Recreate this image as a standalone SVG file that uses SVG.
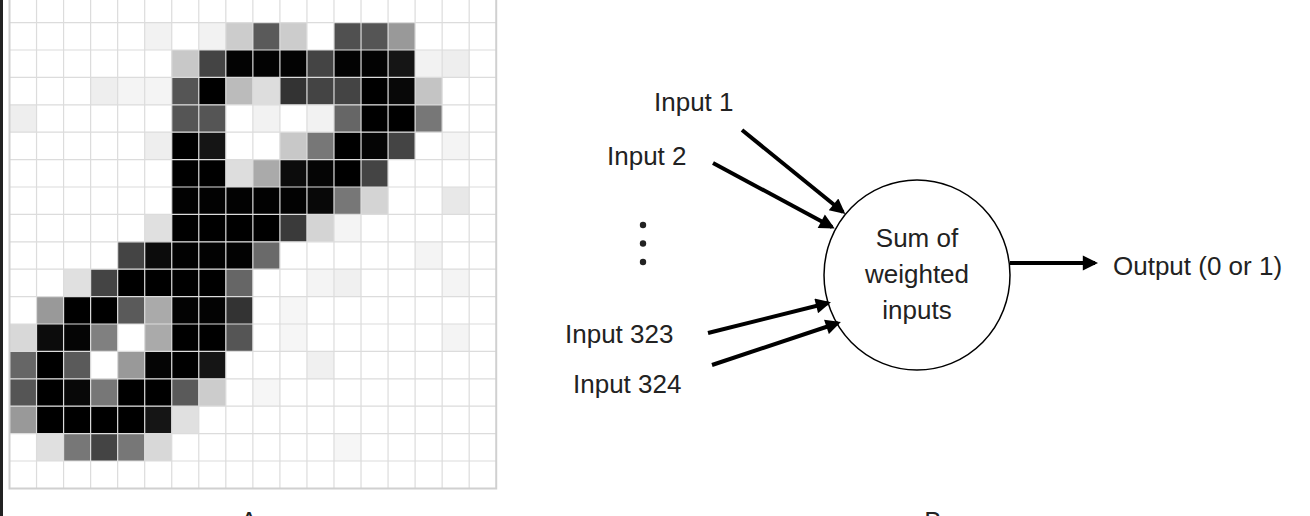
<svg xmlns="http://www.w3.org/2000/svg" width="1310" height="516" viewBox="0 0 1310 516">
<style>
.t{font-family:"Liberation Sans","DejaVu Sans",sans-serif;font-size:26px;fill:#222}
.c{text-anchor:middle}
.g{stroke:#dcdcdc;stroke-width:1.2;vector-effect:non-scaling-stroke;fill:none}
.a{stroke:#000;stroke-width:4;fill:none;marker-end:url(#ah)}
</style>
<defs>
<marker id="ah" viewBox="0 0 10 10" refX="8" refY="5" markerWidth="4.6" markerHeight="3.8" orient="auto" markerUnits="strokeWidth"><path d="M0,0 L10,5 L0,10 Z" fill="#000"/></marker>
</defs>
<rect width="1310" height="516" fill="#fff"/>
<rect x="0" y="0" width="3" height="516" fill="#222"/>
<g id="grid" transform="translate(9.5,-4.8) scale(27.04,27.4)">
<rect x="0" y="0" width="18" height="18" fill="#fff"/>
<rect x="5" y="1" width="1" height="1" fill="#f2f2f2"/><rect x="7" y="1" width="1" height="1" fill="#f2f2f2"/><rect x="8" y="1" width="1" height="1" fill="#ccc"/><rect x="9" y="1" width="1" height="1" fill="#5a5a5a"/><rect x="10" y="1" width="1" height="1" fill="#ccc"/><rect x="12" y="1" width="1" height="1" fill="#505050"/><rect x="13" y="1" width="1" height="1" fill="#555"/><rect x="14" y="1" width="1" height="1" fill="#999"/>
<rect x="6" y="2" width="1" height="1" fill="#c8c8c8"/><rect x="7" y="2" width="1" height="1" fill="#444"/><rect x="8" y="2" width="3" height="1" fill="#030303"/><rect x="11" y="2" width="1" height="1" fill="#444"/><rect x="12" y="2" width="2" height="1" fill="#030303"/><rect x="14" y="2" width="1" height="1" fill="#151515"/><rect x="15" y="2" width="1" height="1" fill="#f2f2f2"/><rect x="16" y="2" width="1" height="1" fill="#eee"/>
<rect x="3" y="3" width="1" height="1" fill="#eee"/><rect x="4" y="3" width="2" height="1" fill="#f4f4f4"/><rect x="6" y="3" width="1" height="1" fill="#555"/><rect x="7" y="3" width="1" height="1" fill="#000"/><rect x="8" y="3" width="1" height="1" fill="#bbb"/><rect x="9" y="3" width="1" height="1" fill="#ddd"/><rect x="10" y="3" width="1" height="1" fill="#333"/><rect x="11" y="3" width="2" height="1" fill="#444"/><rect x="13" y="3" width="1" height="1" fill="#000"/><rect x="14" y="3" width="1" height="1" fill="#080808"/><rect x="15" y="3" width="1" height="1" fill="#c4c4c4"/>
<rect x="0" y="4" width="1" height="1" fill="#eee"/><rect x="6" y="4" width="2" height="1" fill="#555"/><rect x="9" y="4" width="1" height="1" fill="#f2f2f2"/><rect x="11" y="4" width="1" height="1" fill="#f2f2f2"/><rect x="12" y="4" width="1" height="1" fill="#666"/><rect x="13" y="4" width="2" height="1" fill="#000"/><rect x="15" y="4" width="1" height="1" fill="#777"/>
<rect x="5" y="5" width="1" height="1" fill="#eee"/><rect x="6" y="5" width="1" height="1" fill="#000"/><rect x="7" y="5" width="1" height="1" fill="#151515"/><rect x="10" y="5" width="1" height="1" fill="#c8c8c8"/><rect x="11" y="5" width="1" height="1" fill="#777"/><rect x="12" y="5" width="1" height="1" fill="#000"/><rect x="13" y="5" width="1" height="1" fill="#050505"/><rect x="14" y="5" width="1" height="1" fill="#444"/><rect x="16" y="5" width="1" height="1" fill="#f4f4f4"/>
<rect x="6" y="6" width="2" height="1" fill="#000"/><rect x="8" y="6" width="1" height="1" fill="#ddd"/><rect x="9" y="6" width="1" height="1" fill="#aaa"/><rect x="10" y="6" width="1" height="1" fill="#0c0c0c"/><rect x="11" y="6" width="1" height="1" fill="#050505"/><rect x="12" y="6" width="1" height="1" fill="#000"/><rect x="13" y="6" width="1" height="1" fill="#444"/>
<rect x="6" y="7" width="5" height="1" fill="#020202"/><rect x="11" y="7" width="1" height="1" fill="#080808"/><rect x="12" y="7" width="1" height="1" fill="#777"/><rect x="13" y="7" width="1" height="1" fill="#d4d4d4"/><rect x="16" y="7" width="1" height="1" fill="#e8e8e8"/>
<rect x="5" y="8" width="1" height="1" fill="#e0e0e0"/><rect x="6" y="8" width="4" height="1" fill="#000"/><rect x="10" y="8" width="1" height="1" fill="#3a3a3a"/><rect x="11" y="8" width="1" height="1" fill="#d4d4d4"/><rect x="12" y="8" width="1" height="1" fill="#f4f4f4"/>
<rect x="4" y="9" width="1" height="1" fill="#444"/><rect x="5" y="9" width="1" height="1" fill="#0c0c0c"/><rect x="6" y="9" width="3" height="1" fill="#020202"/><rect x="9" y="9" width="1" height="1" fill="#6a6a6a"/><rect x="15" y="9" width="1" height="1" fill="#f4f4f4"/>
<rect x="2" y="10" width="1" height="1" fill="#e0e0e0"/><rect x="3" y="10" width="1" height="1" fill="#444"/><rect x="4" y="10" width="4" height="1" fill="#000"/><rect x="8" y="10" width="1" height="1" fill="#666"/><rect x="11" y="10" width="1" height="1" fill="#f4f4f4"/><rect x="12" y="10" width="1" height="1" fill="#f0f0f0"/><rect x="16" y="10" width="1" height="1" fill="#f4f4f4"/>
<rect x="1" y="11" width="1" height="1" fill="#999"/><rect x="2" y="11" width="2" height="1" fill="#000"/><rect x="4" y="11" width="1" height="1" fill="#5a5a5a"/><rect x="5" y="11" width="1" height="1" fill="#aaa"/><rect x="6" y="11" width="2" height="1" fill="#030303"/><rect x="8" y="11" width="1" height="1" fill="#333"/><rect x="10" y="11" width="1" height="1" fill="#f6f6f6"/>
<rect x="0" y="12" width="1" height="1" fill="#d8d8d8"/><rect x="1" y="12" width="1" height="1" fill="#0c0c0c"/><rect x="2" y="12" width="1" height="1" fill="#050505"/><rect x="3" y="12" width="1" height="1" fill="#808080"/><rect x="5" y="12" width="1" height="1" fill="#aaa"/><rect x="6" y="12" width="2" height="1" fill="#000"/><rect x="8" y="12" width="1" height="1" fill="#555"/><rect x="10" y="12" width="1" height="1" fill="#f6f6f6"/><rect x="16" y="12" width="1" height="1" fill="#f4f4f4"/>
<rect x="0" y="13" width="1" height="1" fill="#666"/><rect x="1" y="13" width="1" height="1" fill="#000"/><rect x="2" y="13" width="1" height="1" fill="#5a5a5a"/><rect x="4" y="13" width="1" height="1" fill="#999"/><rect x="5" y="13" width="1" height="1" fill="#050505"/><rect x="6" y="13" width="1" height="1" fill="#000"/><rect x="7" y="13" width="1" height="1" fill="#151515"/><rect x="11" y="13" width="1" height="1" fill="#f0f0f0"/>
<rect x="0" y="14" width="1" height="1" fill="#555"/><rect x="1" y="14" width="1" height="1" fill="#000"/><rect x="2" y="14" width="1" height="1" fill="#080808"/><rect x="3" y="14" width="1" height="1" fill="#777"/><rect x="4" y="14" width="2" height="1" fill="#000"/><rect x="6" y="14" width="1" height="1" fill="#5a5a5a"/><rect x="7" y="14" width="1" height="1" fill="#ccc"/><rect x="9" y="14" width="1" height="1" fill="#f6f6f6"/>
<rect x="0" y="15" width="1" height="1" fill="#999"/><rect x="1" y="15" width="4" height="1" fill="#000"/><rect x="5" y="15" width="1" height="1" fill="#151515"/><rect x="6" y="15" width="1" height="1" fill="#e0e0e0"/>
<rect x="1" y="16" width="1" height="1" fill="#e0e0e0"/><rect x="2" y="16" width="1" height="1" fill="#777"/><rect x="3" y="16" width="1" height="1" fill="#444"/><rect x="4" y="16" width="1" height="1" fill="#777"/><rect x="5" y="16" width="1" height="1" fill="#d8d8d8"/><rect x="12" y="16" width="1" height="1" fill="#f6f6f6"/>
<path class="g" d="M1,0V18M2,0V18M3,0V18M4,0V18M5,0V18M6,0V18M7,0V18M8,0V18M9,0V18M10,0V18M11,0V18M12,0V18M13,0V18M14,0V18M15,0V18M16,0V18M17,0V18M0,1H18M0,2H18M0,3H18M0,4H18M0,5H18M0,6H18M0,7H18M0,8H18M0,9H18M0,10H18M0,11H18M0,12H18M0,13H18M0,14H18M0,15H18M0,16H18M0,17H18"/>
<rect x="0" y="0" width="18" height="18" fill="none" stroke="#d0d0d0" stroke-width="2" vector-effect="non-scaling-stroke"/>
</g>
<text class="t c" x="249" y="530" font-size="22">A</text>
<text class="t c" x="933" y="530" font-size="22">B</text>
<g id="node-sum">
<ellipse cx="917" cy="275" rx="93" ry="95" fill="#fff" stroke="#000" stroke-width="1.5"/>
<text class="t c" x="917" y="247">Sum of</text>
<text class="t c" x="917" y="283">weighted</text>
<text class="t c" x="917" y="319">inputs</text>
</g>
<g id="in1"><text class="t" x="654" y="111">Input 1</text></g>
<g id="in2"><text class="t" x="607" y="165">Input 2</text></g>
<g id="dots"><circle cx="643" cy="225" r="3.2" fill="#222"/><circle cx="643" cy="243.5" r="3.2" fill="#222"/><circle cx="643" cy="262" r="3.2" fill="#222"/></g>
<g id="in323"><text class="t" x="565" y="343">Input 323</text></g>
<g id="in324"><text class="t" x="573" y="393">Input 324</text></g>
<g id="out"><text class="t" x="1113" y="275">Output (0 or 1)</text></g>
<g id="connectors">
<path class="a" d="M742,130L843,212"/>
<path class="a" d="M713,163L832,227"/>
<path class="a" d="M708,333L828,303"/>
<path class="a" d="M712,365L838,323"/>
<path class="a" d="M1010,263L1095,263"/>
</g>
</svg>
